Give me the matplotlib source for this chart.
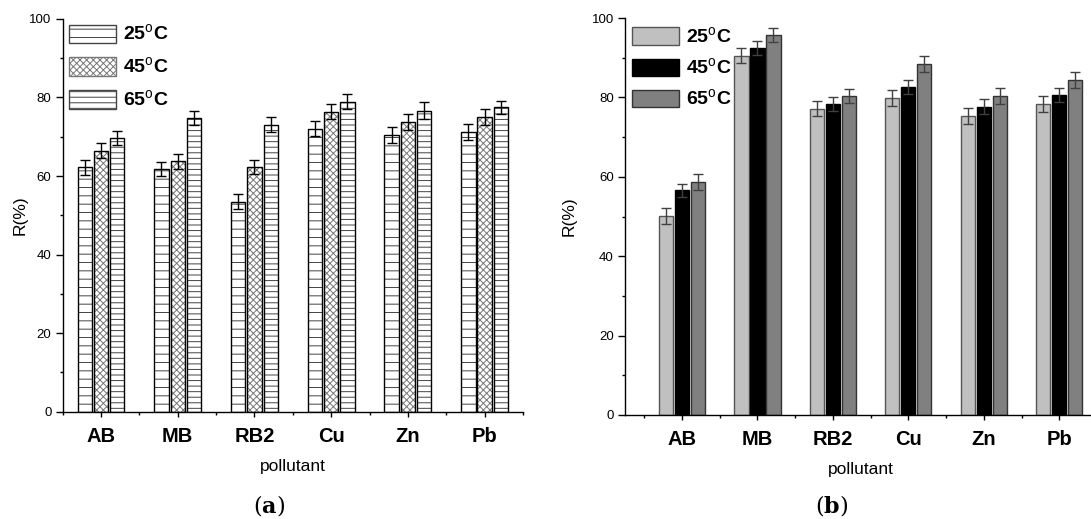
import matplotlib
matplotlib.use('Agg')
import matplotlib.pyplot as plt
import numpy as np
from matplotlib.patches import Patch
from matplotlib.ticker import MultipleLocator, FixedLocator

# ---------------- data ----------------
categories = ['AB', 'MB', 'RB2', 'Cu', 'Zn', 'Pb']
temp_labels = [r'25$^{\mathrm{o}}$C', r'45$^{\mathrm{o}}$C', r'65$^{\mathrm{o}}$C']

a_25 = [62.2, 61.8, 53.5, 72.1, 70.4, 71.2]
a_45 = [66.4, 63.7, 62.4, 76.4, 73.7, 75.0]
a_65 = [69.6, 74.7, 73.1, 78.9, 76.6, 77.5]
a_err25 = [2.0, 1.8, 1.9, 2.0, 2.0, 2.0]
a_err45 = [1.9, 1.9, 1.8, 2.0, 2.0, 2.1]
a_err65 = [1.8, 1.8, 1.9, 1.9, 2.2, 1.7]

b_25 = [50.1, 90.5, 77.1, 79.9, 75.3, 78.3]
b_45 = [56.6, 92.5, 78.3, 82.6, 77.7, 80.6]
b_65 = [58.8, 95.8, 80.3, 88.4, 80.3, 84.3]
b_err25 = [2.0, 1.9, 1.9, 2.0, 2.0, 2.1]
b_err45 = [1.7, 1.7, 1.8, 1.8, 1.9, 1.8]
b_err65 = [2.0, 1.8, 1.8, 2.0, 2.0, 2.0]

# ---------------- style ----------------
plt.rcParams['font.family'] = ['Liberation Sans', 'DejaVu Sans']
plt.rcParams['mathtext.fontset'] = 'custom'
plt.rcParams['mathtext.rm'] = 'Liberation Sans'
plt.rcParams['mathtext.bf'] = 'DejaVu Serif:bold'
plt.rcParams['hatch.linewidth'] = 0.7

fig = plt.figure(figsize=(10.91, 5.19), dpi=100)
ax1 = fig.add_axes([0.0574, 0.2071, 0.4220, 0.7563])
ax2 = fig.add_axes([0.5729, 0.2004, 0.4326, 0.7649])

x = np.arange(1, len(categories) + 1)
offs = [-0.212, 0.0, 0.212]
width = 0.1875


def style_axes(ax, xmin, ylabelpad):
    ax.set_xlim(xmin, 6.5)
    ax.set_ylim(0, 100)
    for s in ['top', 'right']:
        ax.spines[s].set_visible(False)
    for s in ['left', 'bottom']:
        ax.spines[s].set_linewidth(1.0)
    ax.yaxis.set_major_locator(MultipleLocator(20))
    ax.yaxis.set_minor_locator(MultipleLocator(10))
    ax.xaxis.set_major_locator(FixedLocator(x))
    ax.xaxis.set_minor_locator(FixedLocator(np.arange(0.5, 7.0, 1.0)))
    ax.set_xticks(x)
    ax.set_xticklabels(categories, fontsize=14.5, fontweight='bold')
    ax.tick_params(axis='y', which='major', length=5, width=1, pad=3, labelsize=9.5)
    ax.tick_params(axis='y', which='minor', length=2.5, width=1)
    ax.tick_params(axis='x', which='major', length=3.5, width=1, pad=7.5)
    ax.tick_params(axis='x', which='minor', length=2, width=1)
    ax.set_xlabel('pollutant', fontsize=12.5, labelpad=9.5)
    ax.set_ylabel('R(%)', fontsize=12.5, labelpad=ylabelpad)


# ---------------- panel (a) ----------------
a_vals = [a_25, a_45, a_65]
a_errs = [a_err25, a_err45, a_err65]
a_hatch = ['--', 'xxxxx', '---']
a_hcol = ['#444444', '#777777', '#444444']
handles_a = []
for i in range(3):
    ax1.bar(x + offs[i], a_vals[i], width, color='white', edgecolor=a_hcol[i],
            linewidth=0, hatch=a_hatch[i], zorder=2)
    ax1.bar(x + offs[i], a_vals[i], width, fill=False, edgecolor='black',
            linewidth=1.0, zorder=3)
    ax1.errorbar(x + offs[i], a_vals[i], yerr=a_errs[i], fmt='none', ecolor='black',
                 elinewidth=1.0, capsize=3.8, capthick=1.0, zorder=4)
    handles_a.append(Patch(facecolor='white', edgecolor=a_hcol[i], hatch=a_hatch[i],
                           linewidth=1.0, label=temp_labels[i]))
style_axes(ax1, 0.5, 1.5)
ax1.legend(handles=handles_a, loc='upper left', bbox_to_anchor=(0.014, 0.988),
           frameon=False, borderpad=0, borderaxespad=0,
           prop={'size': 14, 'weight': 'bold'},
           handlelength=2.42, handleheight=1.08, handletextpad=0.35,
           labelspacing=0.62)

# ---------------- panel (b) ----------------
b_vals = [b_25, b_45, b_65]
b_errs = [b_err25, b_err45, b_err65]
b_col = ['#c0c0c0', '#000000', '#808080']
b_edge = ['#555555', '#000000', '#333333']
handles_b = []
for i in range(3):
    ax2.bar(x + offs[i], b_vals[i], width, color=b_col[i], edgecolor=b_edge[i],
            linewidth=1.0, zorder=2)
    ax2.errorbar(x + offs[i], b_vals[i], yerr=b_errs[i], fmt='none', ecolor='#404040',
                 elinewidth=1.0, capsize=3.5, capthick=1.0, zorder=4)
    handles_b.append(Patch(facecolor=b_col[i], edgecolor=b_edge[i], linewidth=1.0,
                           label=temp_labels[i]))
style_axes(ax2, 0.245, 10.5)
ax2.legend(handles=handles_b, loc='upper left', bbox_to_anchor=(0.014, 0.980),
           frameon=False, borderpad=0, borderaxespad=0,
           prop={'size': 14, 'weight': 'bold'},
           handlelength=2.42, handleheight=1.0, handletextpad=0.35,
           labelspacing=0.55)

# ---------------- captions ----------------
fig.text(269 / 1091, 1 - 506 / 519, r'($\mathbf{a}$)', family='DejaVu Serif',
         fontsize=16, ha='center', va='center')
fig.text(832 / 1091, 1 - 506 / 519, r'($\mathbf{b}$)', family='DejaVu Serif',
         fontsize=16, ha='center', va='center')

fig.savefig('out.png', dpi=100)
